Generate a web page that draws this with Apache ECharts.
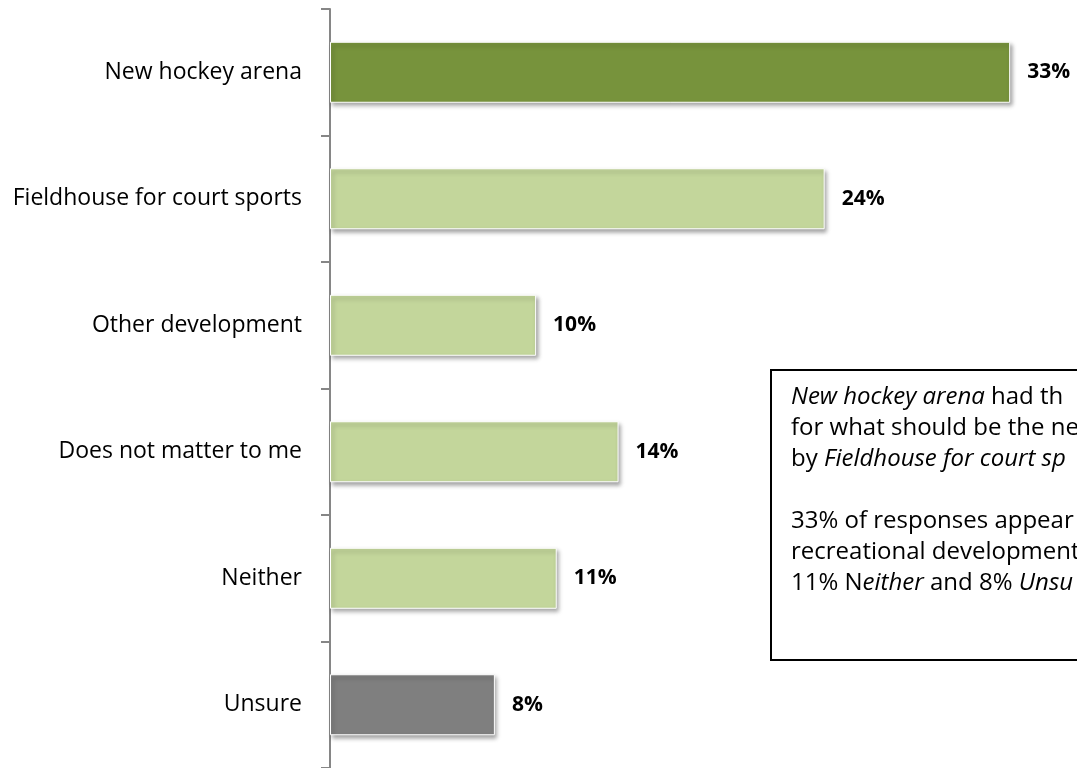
<!DOCTYPE html>
<html>
<head>
<meta charset="utf-8">
<script src="https://cdn.jsdelivr.net/npm/echarts@6/dist/echarts.min.js"></script>
<style>
  html, body { margin: 0; padding: 0; background: #fff; }
  #main { width: 1077px; height: 768px; }
</style>
</head>
<body>
<div id="main"></div>
<script>
// categories, top to bottom
var categories = ['New hockey arena', 'Fieldhouse for court sports', 'Other development',
    'Does not matter to me', 'Neither', 'Unsure'];
// percent of responses
var values = [33, 24, 10, 14, 11, 8];
var barColors = ['#77933C', '#C3D69B', '#C3D69B', '#C3D69B', '#C3D69B', '#7F7F7F'];

// note box, lines cut at the right edge as in the picture
var noteLines = [
    '{i|New hockey arena} had th',
    'for what should be the ne',
    'by {i|Fieldhouse for court sp}',
    '',
    '33% of responses appear',
    'recreational development',
    '11% N{i|either} and 8% {i|Unsu}'
];

var font = 'Open Sans';
var chart = echarts.init(document.getElementById('main'));

var option = {
    backgroundColor: '#fff',
    animation: false,
    grid: {
        left: 330,
        right: 5,
        top: 9,
        bottom: 0
    },
    xAxis: {
        type: 'value',
        min: 0,
        max: 36,
        show: false
    },
    yAxis: {
        type: 'category',
        inverse: true,
        data: categories,
        axisLine: { lineStyle: { color: '#868686', width: 2 } },
        axisTick: { show: true, length: 9, lineStyle: { color: '#868686', width: 2 } },
        axisLabel: {
            margin: 28,
            color: '#000',
            fontFamily: font,
            fontSize: 23
        }
    },
    series: [{
        type: 'bar',
        barWidth: 61,
        data: values.map(function (v, i) {
            return { value: v, itemStyle: { color: barColors[i] } };
        }),
        itemStyle: {
            borderColor: '#fff',
            borderWidth: 1,
            shadowColor: 'rgba(0,0,0,0.35)',
            shadowBlur: 4,
            shadowOffsetX: 2,
            shadowOffsetY: 3
        },
        label: {
            show: true,
            position: 'right',
            distance: 17,
            formatter: '{c}%',
            color: '#000',
            fontFamily: font,
            fontWeight: 'bold',
            fontSize: 21
        }
    }],
    graphic: [{
        type: 'rect',
        left: 770,
        top: 369,
        shape: { width: 400, height: 290 },
        style: { fill: '#fff', stroke: '#000', lineWidth: 2 }
    }, {
        type: 'text',
        left: 791,
        top: 382,
        style: {
            text: noteLines.join('\n'),
            fill: '#000',
            fontFamily: font,
            fontSize: 24,
            lineHeight: 31,
            rich: {
                i: { fontStyle: 'italic', fontFamily: font, fontSize: 24, lineHeight: 31 }
            }
        }
    }]
};

chart.setOption(option);
</script>
</body>
</html>
